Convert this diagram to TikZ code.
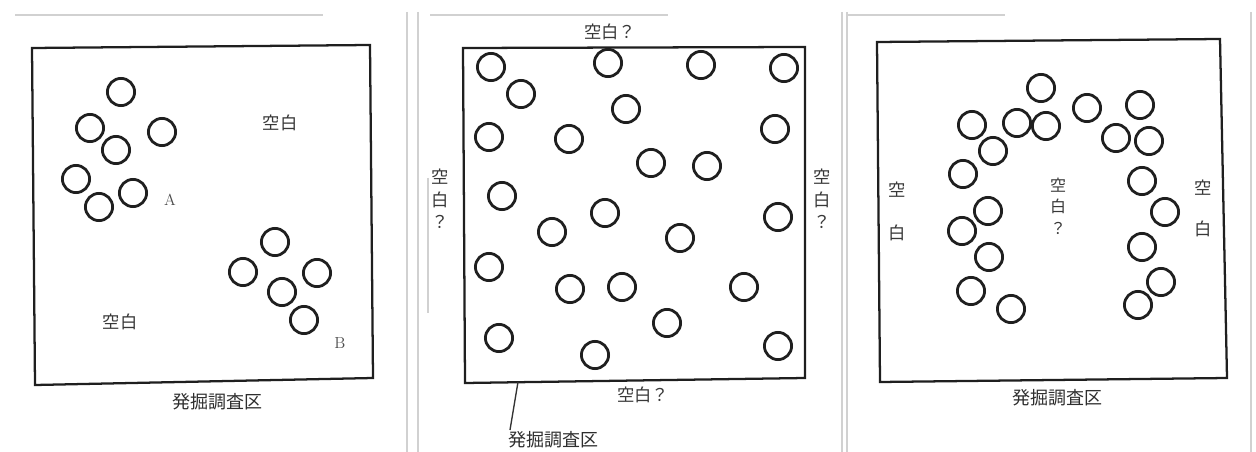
\documentclass[tikz,border=0pt]{standalone}
\usepackage{fontspec}
\newfontfamily\jp{Noto Sans CJK JP}
\begin{document}
\begin{tikzpicture}[x=0.75pt,y=-0.75pt,
  pit/.style={line width=2.1pt,black!88},
  frame/.style={line width=1.7pt,black!88},
  lbl/.style={inner sep=0pt,font=\jp\fontsize{13}{14}\selectfont,text=black!78},
  captxt/.style={inner sep=0pt,font=\jp\fontsize{13.5}{15}\selectfont,text=black!82},
  letter/.style={inner sep=0pt,font=\fontsize{12}{13}\selectfont,text=black!70},
  faint/.style={line width=0.8pt,black!18}]
\path[use as bounding box] (0,0) rectangle (1256,452);
\def\r{10.2pt}
% faint scan separators
\draw[faint] (407,12) -- (407,452);
\draw[faint] (418,12) -- (418,452);
\draw[faint] (842,12) -- (842,452);
\draw[faint] (847,12) -- (847,452);
\draw[faint] (1251,12) -- (1251,452);
\draw[faint] (15,15) -- (323,15);
\draw[faint] (430,15) -- (668,15);
\draw[faint] (848,15) -- (1005,15);
\draw[faint] (428,178) -- (428,313);

% ---------- Panel 1 ----------
\draw[frame] (32,48) -- (370,45) -- (373,378) -- (35,385) -- cycle;
\foreach \x/\y in {121/92,90/128,162/132,116/150,76/179,133/193,99/207,
                   275/242,243/272,317/273,282/292,304/320}
  \draw[pit] (\x,\y) circle[radius=\r];
\node[lbl] (p1a) at (280,123) {空白};
\node[lbl] (p1b) at (120,322) {空白};
\node[letter] (lA) at (170,200) {A};
\node[letter] (lB) at (340,343) {B};
\node[captxt] (cap1) at (217,402) {発掘調査区};

% ---------- Panel 2 ----------
\draw[frame] (463,48) -- (805,47) -- (805,378) -- (465,383) -- cycle;
\foreach \x/\y in {491/67,608/63,701/65,784/68,521/94,626/109,489/137,569/139,
                   775/129,651/163,707/166,502/196,605/213,552/232,778/217,680/238,
                   489/267,570/289,622/287,744/287,667/323,499/338,595/355,778/346}
  \draw[pit] (\x,\y) circle[radius=\r];
\node[lbl] (p2t) at (610,32) {空白？};
\node[lbl] (p2b) at (643,395) {空白？};
\node[lbl,align=center,font=\jp\fontsize{13}{17}\selectfont] (p2l) at (440,199) {空\\白\\？};
\node[lbl,align=center,font=\jp\fontsize{13}{17}\selectfont] (p2r) at (822,199) {空\\白\\？};
\node[captxt] (cap2) at (553,440) {発掘調査区};
\coordinate (lead) at (518,382);
\coordinate (leadend) at (510,430);
\draw[line width=1pt,black!80] (lead) -- (leadend);

% ---------- Panel 3 ----------
\draw[frame] (877,42) -- (1220,39) -- (1227,378) -- (880,382) -- cycle;
\foreach \x/\y in {1041/88,1087/108,1140/105,972/125,1017/123,1046/126,1116/138,
                   1149/141,993/151,963/174,1142/181,1165/212,988/211,962/231,
                   989/257,1142/247,1161/282,971/291,1011/309,1138/305}
  \draw[pit] (\x,\y) circle[radius=\r];
\node[lbl] (p3l1) at (897,190) {空};
\node[lbl] (p3l2) at (897,233) {白};
\node[lbl] (p3r1) at (1203,188) {空};
\node[lbl] (p3r2) at (1203,229) {白};
\node[lbl,align=center,font=\jp\fontsize{12}{16}\selectfont] (p3c) at (1058,206) {空\\白\\？};
\node[captxt] (cap3) at (1057,398) {発掘調査区};
\end{tikzpicture}
\end{document}
